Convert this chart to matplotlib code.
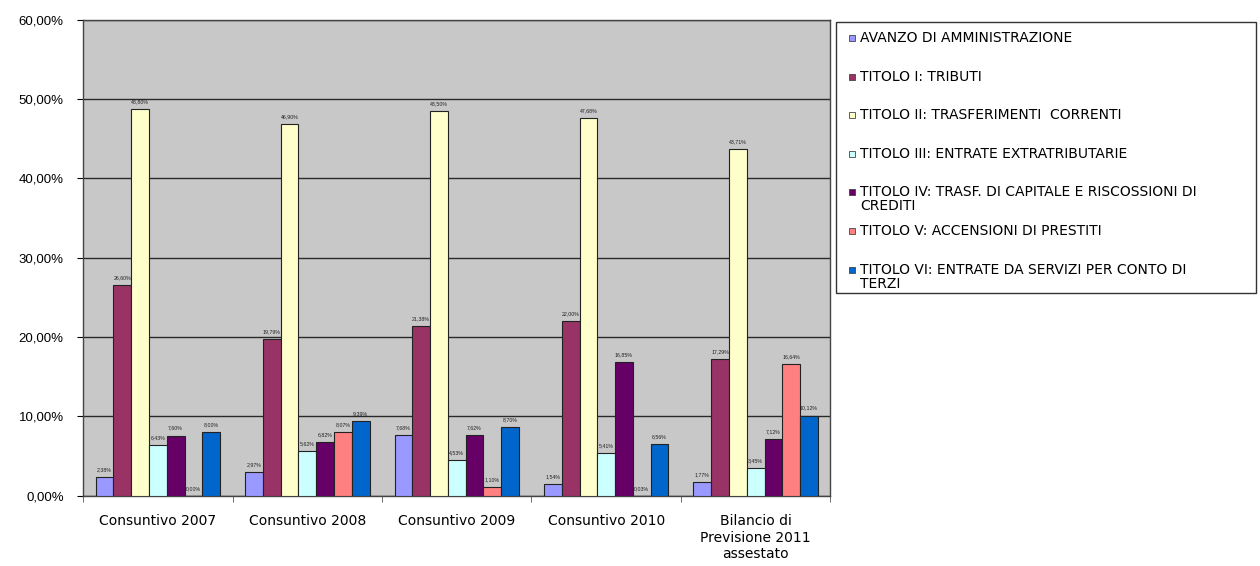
import matplotlib.pyplot as plt
import numpy as np
from matplotlib.patches import Rectangle
from matplotlib.ticker import FuncFormatter

plt.rcParams['font.family'] = ['Liberation Sans', 'DejaVu Sans']

groups = ['Consuntivo 2007', 'Consuntivo 2008', 'Consuntivo 2009', 'Consuntivo 2010',
          'Bilancio di\nPrevisione 2011\nassestato']

series = ['AVANZO DI AMMINISTRAZIONE',
          'TITOLO I: TRIBUTI',
          'TITOLO II: TRASFERIMENTI  CORRENTI',
          'TITOLO III: ENTRATE EXTRATRIBUTARIE',
          'TITOLO IV: TRASF. DI CAPITALE E RISCOSSIONI DI\nCREDITI',
          'TITOLO V: ACCENSIONI DI PRESTITI',
          'TITOLO VI: ENTRATE DA SERVIZI PER CONTO DI\nTERZI']

colors = ['#9999ff', '#993366', '#ffffcc', '#ccffff', '#660066', '#ff8080', '#0066cc']

avanzo = [2.38, 2.97, 7.68, 1.54, 1.77]
tributi = [26.60, 19.79, 21.38, 22.00, 17.29]
trasferimenti = [48.80, 46.90, 48.50, 47.68, 43.71]
extratributarie = [6.43, 5.62, 4.53, 5.41, 3.45]
capitale = [7.60, 6.82, 7.62, 16.85, 7.12]
prestiti = [0.00, 8.07, 1.10, 0.03, 16.64]
terzi = [8.00, 9.39, 8.70, 6.56, 10.12]

values = [avanzo, tributi, trasferimenti, extratributarie, capitale, prestiti, terzi]

fig = plt.figure(figsize=(12.6, 5.66), dpi=100)
ax = fig.add_axes([0.066, 0.124, 0.593, 0.841])
ax.set_facecolor('#c8c8c8')

x = np.arange(len(groups))
w = 0.119
for i, (vals, c) in enumerate(zip(values, colors)):
    pos = x + (i - 3) * w
    ax.bar(pos, vals, w, color=c, edgecolor='#222222', linewidth=0.8, zorder=3)
    for p, v in zip(pos, vals):
        ax.text(p, v + 0.6, f'{v:.2f}%'.replace('.', ','), ha='center', va='bottom',
                fontsize=3.8, color='#222222', zorder=4)

ax.set_xlim(-0.5, len(groups) - 0.5)
ax.set_ylim(0, 60)
ax.set_yticks(range(0, 61, 10))
ax.yaxis.set_major_formatter(FuncFormatter(lambda v, _: f'{v:.2f}%'.replace('.', ',')))
ax.grid(axis='y', color='#2a2a2a', linewidth=1.0, zorder=1)
ax.set_xticks(x)
ax.set_xticklabels(groups, fontsize=10, family='DejaVu Sans', linespacing=1.25)
ax.set_xticks(np.arange(-0.5, len(groups)), minor=True)
ax.tick_params(axis='x', which='major', length=0, pad=13)
ax.tick_params(axis='x', which='minor', length=4, color='#555555')
ax.tick_params(axis='y', labelsize=9.5, length=4, pad=10)
for s in ax.spines.values():
    s.set_color('#444444')
    s.set_linewidth(1.0)

# legend box
fig.add_artist(Rectangle((836 / 1260, 1 - 293 / 566), (1256 - 836) / 1260, (293 - 22) / 566,
                         transform=fig.transFigure, facecolor='white', edgecolor='#333333',
                         linewidth=1.0))
for i, (lab, c) in enumerate(zip(series, colors)):
    ytop = 37 + i * 38.6
    fig.add_artist(Rectangle((849 / 1260, 1 - (ytop + 4) / 566), 6 / 1260, 6 / 566,
                             transform=fig.transFigure, facecolor=c, edgecolor='#444444',
                             linewidth=0.6))
    fig.text(860 / 1260, 1 - (ytop - 6) / 566, lab, fontsize=10, va='top', ha='left',
             family='DejaVu Sans', linespacing=1.0)

fig.savefig('out.png', dpi=100)
